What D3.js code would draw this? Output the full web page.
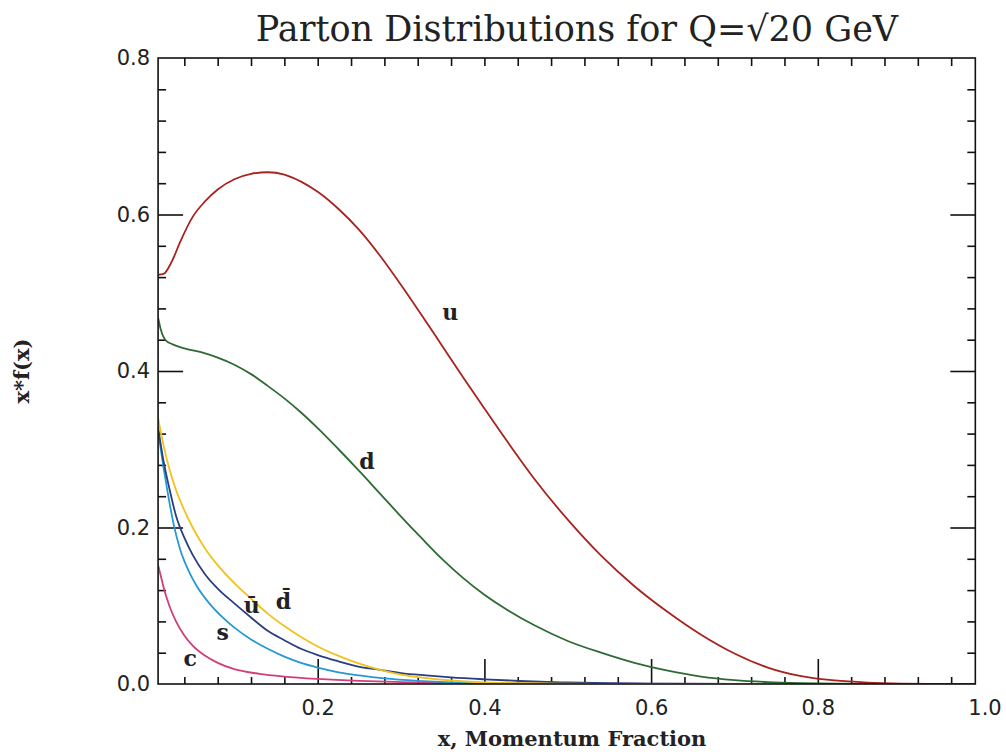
<!DOCTYPE html>
<html><head><meta charset="utf-8">
<script src="https://cdn.jsdelivr.net/npm/d3@7"></script>
<style>body{margin:0;background:#fff}</style>
</head><body>
<svg id="c" width="1006" height="752"></svg>
<script>
// ---- data ----
const uX  = [0.0085,0.015,0.025,0.035,0.05,0.065,0.08,0.1,0.12,0.14,0.16,0.18,0.2,0.225,0.25,0.275,0.3,0.325,0.35,0.375,0.4,0.43,0.46,0.5,0.54,0.58,0.62,0.66,0.70,0.74,0.78,0.82,0.86,0.9,0.95,0.989];
const uY  = [0.523,0.524,0.540,0.565,0.597,0.617,0.632,0.645,0.652,0.654,0.651,0.642,0.629,0.607,0.580,0.547,0.510,0.471,0.431,0.391,0.352,0.306,0.262,0.210,0.164,0.125,0.092,0.063,0.039,0.021,0.010,0.0045,0.0018,0.0006,0.0001,0];
const dX  = [0.0085,0.012,0.017,0.026,0.04,0.06,0.08,0.1,0.12,0.14,0.16,0.18,0.2,0.225,0.25,0.275,0.3,0.325,0.35,0.375,0.4,0.43,0.46,0.5,0.54,0.58,0.62,0.66,0.70,0.74,0.78,0.82,0.9,0.989];
const dY  = [0.468,0.452,0.440,0.434,0.429,0.424,0.417,0.408,0.396,0.381,0.365,0.347,0.327,0.300,0.272,0.243,0.214,0.186,0.159,0.135,0.114,0.093,0.075,0.055,0.040,0.027,0.017,0.0095,0.005,0.0025,0.0012,0.0005,0.0001,0];
const dbarX = [0.0085,0.015,0.022,0.03,0.04,0.05,0.065,0.08,0.1,0.12,0.14,0.16,0.18,0.2,0.225,0.25,0.275,0.3,0.33,0.36,0.4,0.45,0.5,0.6,0.989];
const dbarY = [0.340,0.305,0.275,0.248,0.222,0.200,0.173,0.152,0.129,0.109,0.090,0.074,0.060,0.048,0.036,0.026,0.018,0.012,0.0075,0.0045,0.0022,0.001,0.0004,0.0001,0];
const ubarX = [0.0085,0.015,0.022,0.03,0.04,0.05,0.065,0.08,0.1,0.12,0.14,0.16,0.18,0.2,0.225,0.25,0.275,0.3,0.33,0.36,0.4,0.45,0.5,0.55,0.6,0.7,0.989];
const ubarY = [0.328,0.285,0.250,0.215,0.187,0.165,0.140,0.122,0.103,0.085,0.068,0.056,0.045,0.037,0.029,0.022,0.018,0.014,0.011,0.0085,0.006,0.0035,0.002,0.001,0.0005,0.0001,0];
const sX  = [0.0085,0.015,0.02,0.027,0.035,0.045,0.055,0.07,0.085,0.1,0.12,0.14,0.16,0.18,0.2,0.225,0.25,0.28,0.32,0.36,0.4,0.5,0.989];
const sY  = [0.323,0.277,0.245,0.205,0.172,0.145,0.125,0.103,0.086,0.072,0.057,0.045,0.035,0.027,0.021,0.015,0.011,0.0072,0.004,0.002,0.001,0.0002,0];
const cX  = [0.0085,0.012,0.016,0.022,0.03,0.04,0.05,0.065,0.08,0.1,0.13,0.16,0.2,0.25,0.3,0.35,0.4,0.5,0.989];
const cY  = [0.152,0.137,0.120,0.100,0.080,0.062,0.049,0.036,0.027,0.019,0.013,0.0095,0.0065,0.004,0.0025,0.0015,0.001,0.0004,0];

const labelText    = ["c","s","u\u0304","d\u0304","d","u"];
const labelX       = [0.047,0.086,0.121,0.159,0.259,0.359];
const labelY       = [0.033,0.066,0.101,0.106,0.285,0.475];

const xTickLabels = [0.2,0.4,0.6,0.8,1.0];
const yTickLabels = [0.0,0.2,0.4,0.6,0.8];
const xExtent = [0.0085,0.989];
const yExtent = [0,0.8];

// ---- drawing ----
const series = [
  {name:"c", xs:cX, ys:cY, color:"#cf3f7c"},
  {name:"s", xs:sX, ys:sY, color:"#2698d3"},
  {name:"ū", xs:ubarX, ys:ubarY, color:"#2a3f82"},
  {name:"d̄", xs:dbarX, ys:dbarY, color:"#f1c21b"},
  {name:"d", xs:dX, ys:dY, color:"#2e6b33"},
  {name:"u", xs:uX, ys:uY, color:"#a8231f"}
];

const svg = d3.select("#c");
svg.append("rect").attr("width",1006).attr("height",752).attr("fill","#fff");

const x = d3.scaleLinear().domain([0,1]).range([151,984.5]);
const y = d3.scaleLinear().domain([0,0.8]).range([684,58]);
const X0 = x(xExtent[0]), X1 = x(xExtent[1]), Y0 = y(yExtent[0]), Y1 = y(yExtent[1]);

svg.append("defs").append("clipPath").attr("id","clip")
  .append("rect").attr("x",X0).attr("y",Y1-2).attr("width",X1-X0).attr("height",Y0-Y1+2);

// ticks
const majX = [0.2,0.4,0.6,0.8];
const allX = d3.range(1,25).map(i=>+(i*0.04).toFixed(2));
const minX = allX.filter(v=>Math.abs(v*5-Math.round(v*5))>1e-6);
const majY = [0.2,0.4,0.6];
const minY = d3.range(1,20).map(i=>+(i*0.04).toFixed(2)).filter(v=>Math.abs(v*5-Math.round(v*5))>1e-6);

function tickAxis(axis, transform){
  const g = svg.append("g").attr("transform",transform).call(axis);
  g.select(".domain").remove();
  g.selectAll(".tick line").attr("stroke","#111").attr("stroke-width",1.6);
  g.selectAll("text").remove();
  return g;
}
tickAxis(d3.axisBottom(x).tickValues(majX).tickSize(-25), `translate(0,${Y0})`);
tickAxis(d3.axisBottom(x).tickValues(minX).tickSize(-7), `translate(0,${Y0})`);
tickAxis(d3.axisTop(x).tickValues(allX).tickSize(-8), `translate(0,${Y1})`);
tickAxis(d3.axisLeft(y).tickValues(majY).tickSize(-25), `translate(${X0},0)`);
tickAxis(d3.axisLeft(y).tickValues(minY).tickSize(-8), `translate(${X0},0)`);
tickAxis(d3.axisRight(y).tickValues(majY).tickSize(-25), `translate(${X1},0)`);
tickAxis(d3.axisRight(y).tickValues(minY).tickSize(-8), `translate(${X1},0)`);

// curves
const line = d3.line().x(d=>x(d[0])).y(d=>y(d[1])).curve(d3.curveMonotoneX);
const cg = svg.append("g").attr("clip-path","url(#clip)");
series.forEach(s=>{
  const pts = s.xs.map((v,i)=>[v,s.ys[i]]);
  cg.append("path").attr("d",line(pts)).attr("fill","none")
    .attr("stroke",s.color).attr("stroke-width",1.8).attr("stroke-linejoin","round");
});

// frame
svg.append("rect").attr("x",X0).attr("y",Y1).attr("width",X1-X0).attr("height",Y0-Y1)
  .attr("fill","none").attr("stroke","#111").attr("stroke-width",1.6);

// tick labels
const lx = svg.append("g").attr("transform",`translate(0,${Y0})`)
  .call(d3.axisBottom(x).tickValues(xTickLabels).tickSize(0).tickPadding(16).tickFormat(d3.format(".1f")));
lx.select(".domain").remove();
lx.selectAll("text").attr("font-family","DejaVu Sans").attr("font-size",21).attr("fill","#222");
const ly = svg.append("g").attr("transform",`translate(${X0},0)`)
  .call(d3.axisLeft(y).tickValues(yTickLabels).tickSize(0).tickPadding(8).tickFormat(d3.format(".1f")));
ly.select(".domain").remove();
ly.selectAll("text").attr("font-family","DejaVu Sans").attr("font-size",21).attr("fill","#222");

// title and axis titles
svg.append("text").attr("x",577).attr("y",41).attr("text-anchor","middle")
  .attr("font-family","DejaVu Serif").attr("font-size",35).attr("fill","#222")
  .text("Parton Distributions for Q=√20 GeV");
svg.append("text").attr("x",572).attr("y",746).attr("text-anchor","middle")
  .attr("font-family","DejaVu Serif").attr("font-weight","bold").attr("font-size",21).attr("fill","#222")
  .text("x, Momentum Fraction");
svg.append("text").attr("transform","translate(29,371) rotate(-90)").attr("text-anchor","middle")
  .attr("font-family","DejaVu Serif").attr("font-weight","bold").attr("font-size",21).attr("fill","#222")
  .text("x*f(x)");

// curve labels
labelText.forEach((t,i)=>{
  svg.append("text").attr("x",x(labelX[i])).attr("y",y(labelY[i])).attr("text-anchor","middle")
    .attr("dominant-baseline","central")
    .attr("font-family","DejaVu Serif").attr("font-weight","bold").attr("font-size",22).attr("fill","#222")
    .text(t);
});
</script>
</body></html>
